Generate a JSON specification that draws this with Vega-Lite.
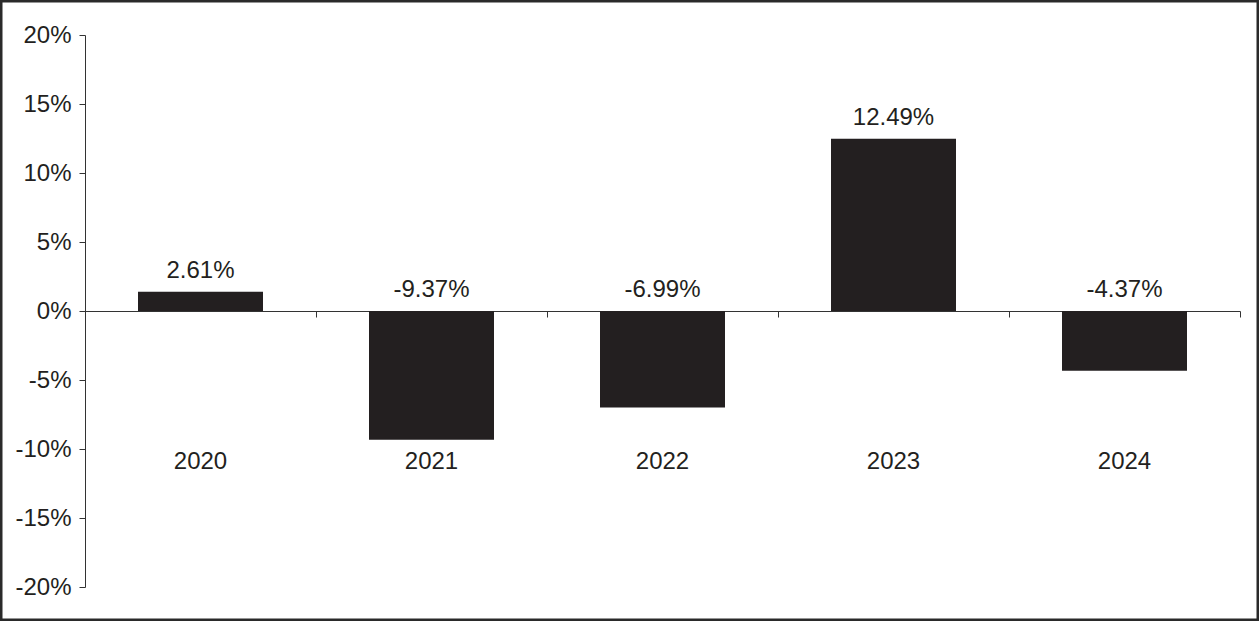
{
  "$schema": "https://vega.github.io/schema/vega-lite/v6.json",
  "width": 1259,
  "height": 621,
  "autosize": {"type": "none"},
  "padding": 0,
  "background": "white",
  "config": {
    "view": {"stroke": "#2a2a2a", "strokeWidth": 5},
    "font": "Liberation Sans"
  },
  "data": {
    "values": [
      {"year": "2020", "value": 1.4, "label": "2.61%"},
      {"year": "2021", "value": -9.33, "label": "-9.37%"},
      {"year": "2022", "value": -6.99, "label": "-6.99%"},
      {"year": "2023", "value": 12.49, "label": "12.49%"},
      {"year": "2024", "value": -4.33, "label": "-4.37%"}
    ]
  },
  "encoding": {
    "x": {
      "field": "year",
      "type": "nominal",
      "scale": {"range": [85, 1240], "paddingInner": 0, "paddingOuter": 0},
      "axis": {
        "title": null,
        "labels": false,
        "orient": "bottom",
        "offset": -310,
        "bandPosition": 1,
        "ticks": true,
        "tickSize": 6,
        "tickColor": "#333333",
        "domainColor": "#333333",
        "domainWidth": 1,
        "tickWidth": 1,
        "grid": false
      }
    }
  },
  "layer": [
    {
      "mark": {"type": "bar", "color": "#231f20", "width": {"band": 0.5411}},
      "encoding": {
        "y": {
          "field": "value",
          "type": "quantitative",
          "scale": {"domain": [-20, 20], "range": [587, 35], "nice": false, "zero": true},
          "axis": {
            "title": null,
            "orient": "left",
            "offset": -85,
            "values": [-20, -15, -10, -5, 0, 5, 10, 15, 20],
            "labelExpr": "datum.value + '%'",
            "labelFontSize": 24,
            "labelColor": "#231f20",
            "labelPadding": 8,
            "tickSize": 6,
            "tickColor": "#333333",
            "domainColor": "#333333",
            "grid": false
          }
        }
      }
    },
    {
      "transform": [{"filter": "datum.value > 0"}],
      "mark": {"type": "text", "fontSize": 24, "color": "#231f20", "baseline": "alphabetic", "dy": -14},
      "encoding": {
        "y": {"field": "value", "type": "quantitative", "scale": {"domain": [-20, 20], "range": [587, 35], "nice": false}},
        "text": {"field": "label"}
      }
    },
    {
      "transform": [{"filter": "datum.value < 0"}],
      "mark": {"type": "text", "fontSize": 24, "color": "#231f20", "baseline": "alphabetic", "dy": -14},
      "encoding": {
        "y": {"datum": 0, "type": "quantitative", "scale": {"domain": [-20, 20], "range": [587, 35], "nice": false}},
        "text": {"field": "label"}
      }
    },
    {
      "mark": {"type": "text", "fontSize": 24, "color": "#231f20", "baseline": "alphabetic"},
      "encoding": {
        "y": {"datum": -11.45, "type": "quantitative", "scale": {"domain": [-20, 20], "range": [587, 35], "nice": false}},
        "text": {"field": "year"}
      }
    }
  ]
}
